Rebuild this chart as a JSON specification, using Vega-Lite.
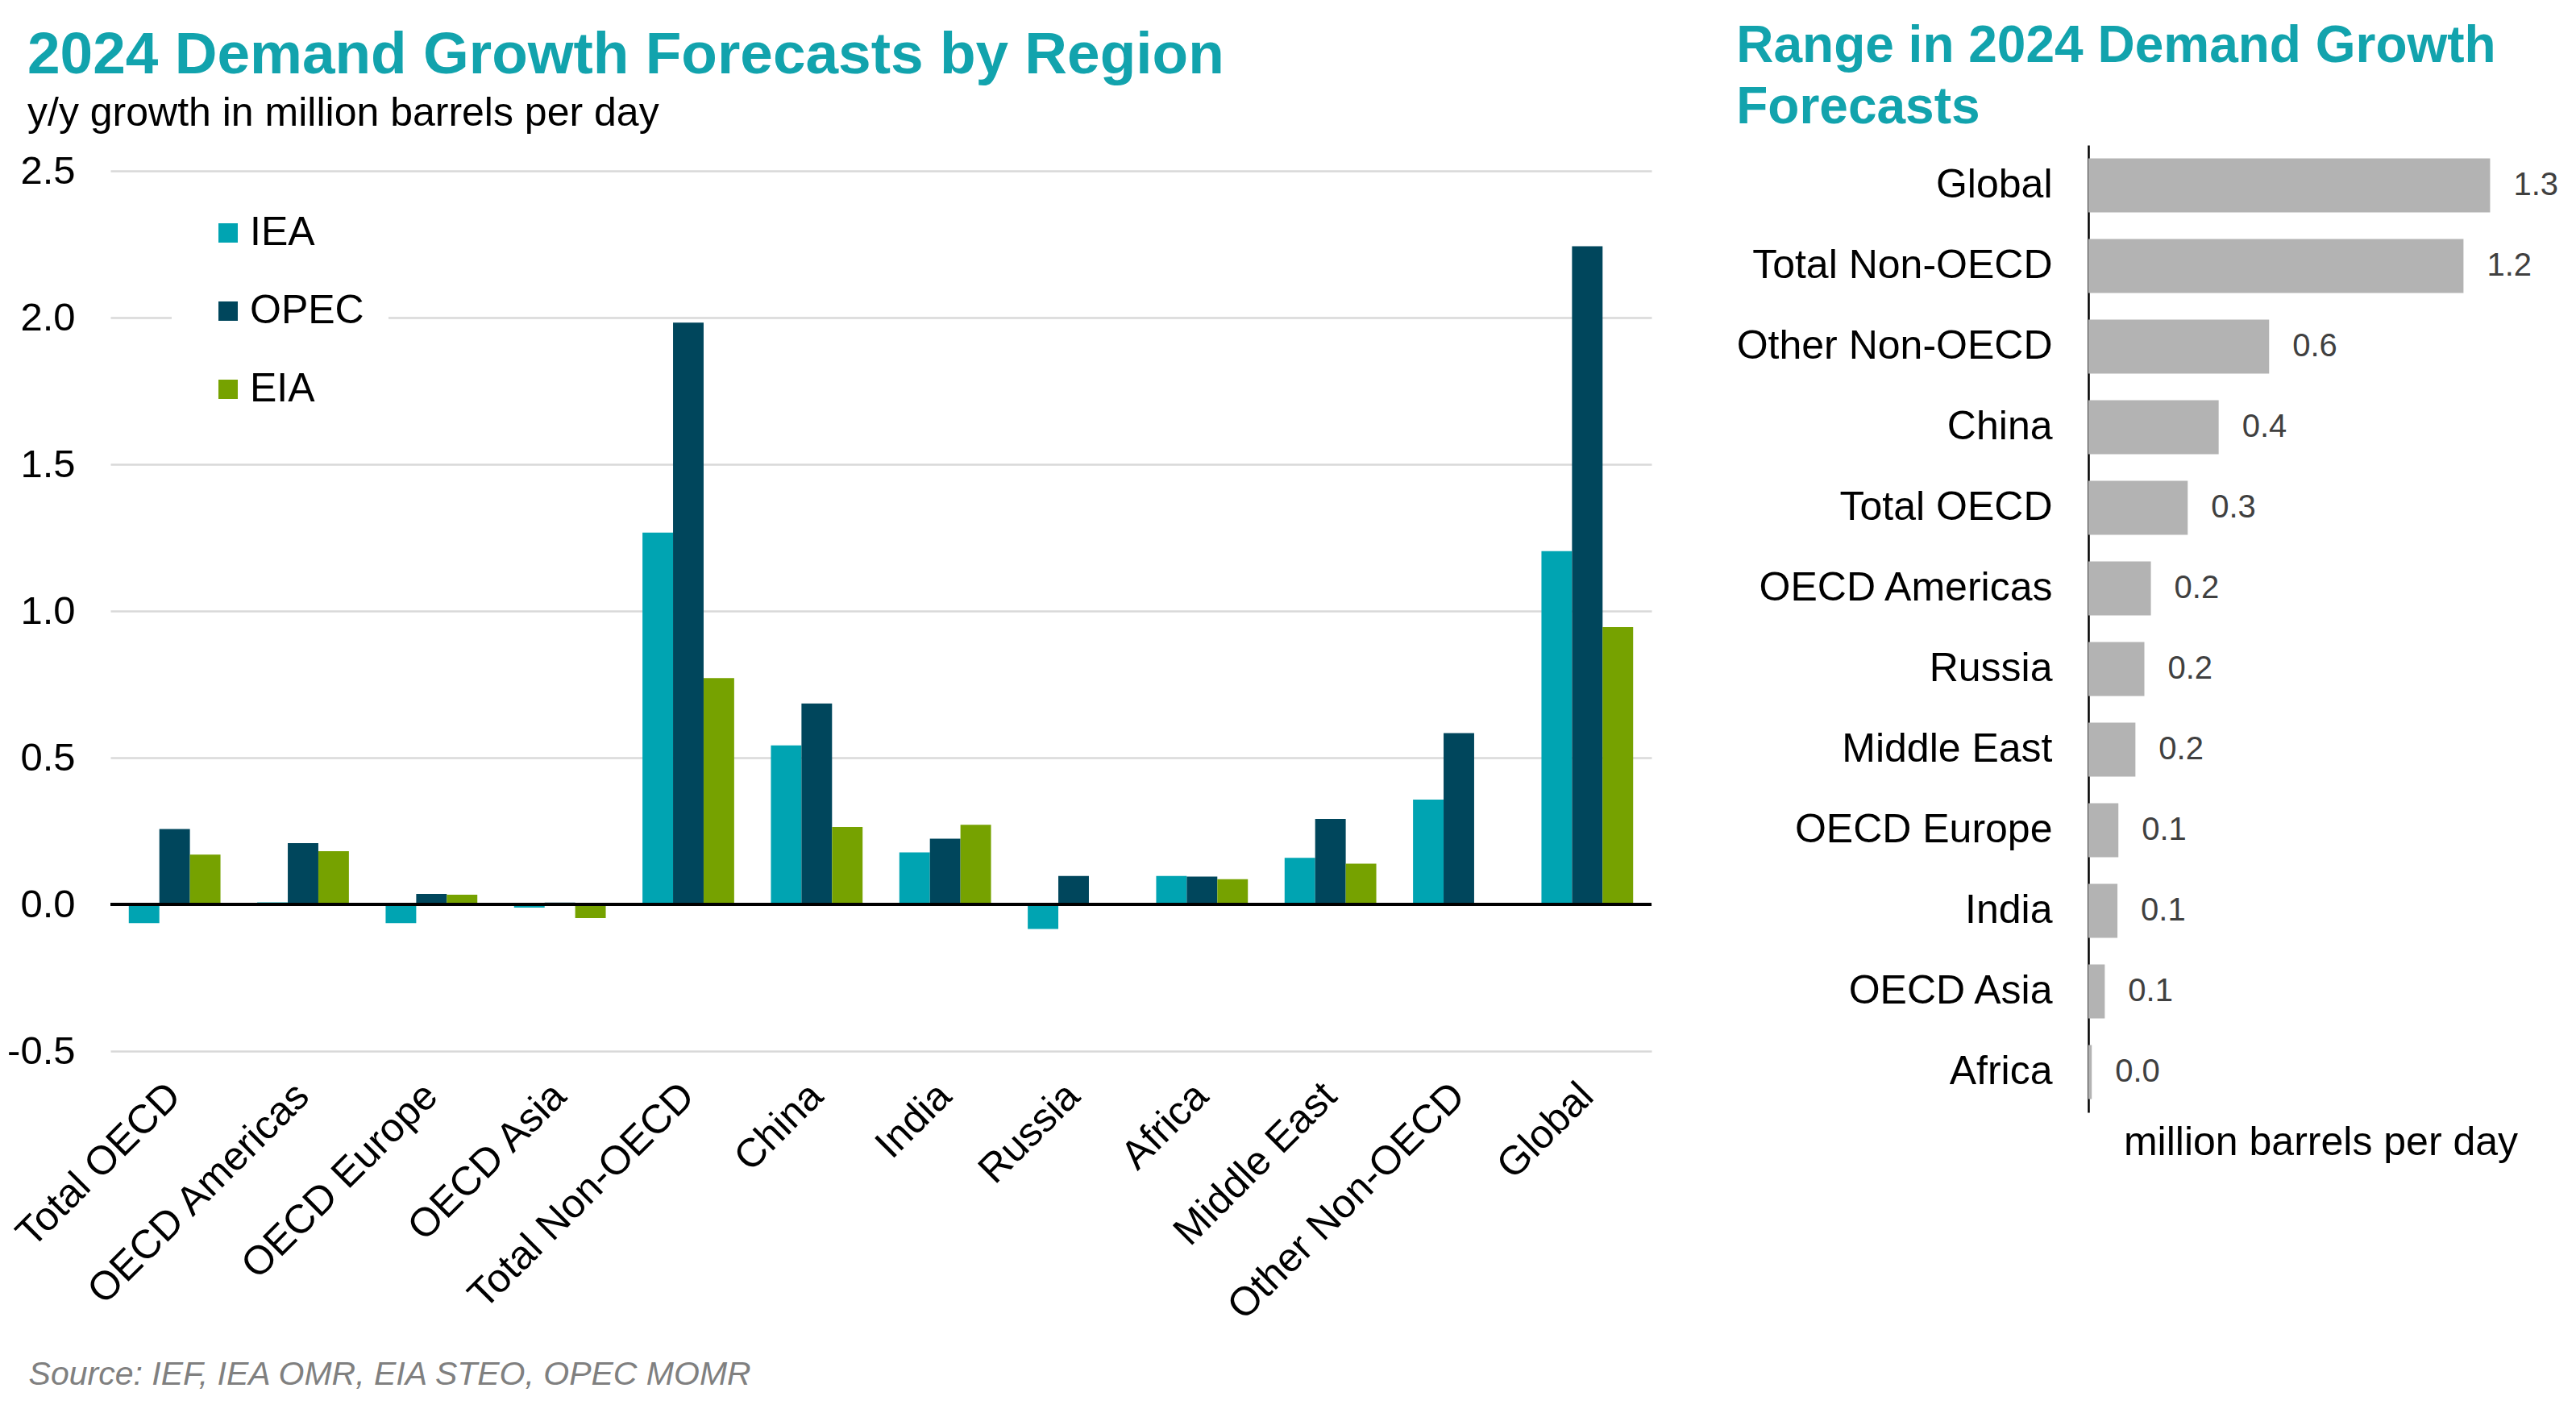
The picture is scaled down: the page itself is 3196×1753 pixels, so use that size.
{
  "$schema": "https://vega.github.io/schema/vega-lite/v6.json",
  "background": "white",
  "padding": {"left": 8, "top": 26, "right": 0, "bottom": 0},
  "spacing": 103,
  "title": {
    "text": "Source: IEF, IEA OMR, EIA STEO, OPEC MOMR",
    "orient": "bottom",
    "anchor": "start",
    "frame": "bounds",
    "dx": 27,
    "offset": 40,
    "fontSize": 41,
    "fontStyle": "italic",
    "fontWeight": "normal",
    "color": "#808080"
  },
  "config": {
    "font": "Liberation Sans",
    "view": {"stroke": null},
    "axis": {"labelColor": "black", "titleColor": "black", "labelLimit": 0}
  },
  "datasets": {
    "forecasts": [
      {"region": "Total OECD", "source": "IEA", "growth": -0.064},
      {"region": "Total OECD", "source": "OPEC", "growth": 0.257},
      {"region": "Total OECD", "source": "EIA", "growth": 0.17},
      {"region": "OECD Americas", "source": "IEA", "growth": 0.007},
      {"region": "OECD Americas", "source": "OPEC", "growth": 0.209},
      {"region": "OECD Americas", "source": "EIA", "growth": 0.181},
      {"region": "OECD Europe", "source": "IEA", "growth": -0.064},
      {"region": "OECD Europe", "source": "OPEC", "growth": 0.036},
      {"region": "OECD Europe", "source": "EIA", "growth": 0.033},
      {"region": "OECD Asia", "source": "IEA", "growth": -0.011},
      {"region": "OECD Asia", "source": "OPEC", "growth": 0.006},
      {"region": "OECD Asia", "source": "EIA", "growth": -0.047},
      {"region": "Total Non-OECD", "source": "IEA", "growth": 1.267},
      {"region": "Total Non-OECD", "source": "OPEC", "growth": 1.983},
      {"region": "Total Non-OECD", "source": "EIA", "growth": 0.771},
      {"region": "China", "source": "IEA", "growth": 0.542},
      {"region": "China", "source": "OPEC", "growth": 0.685},
      {"region": "China", "source": "EIA", "growth": 0.264},
      {"region": "India", "source": "IEA", "growth": 0.177},
      {"region": "India", "source": "OPEC", "growth": 0.224},
      {"region": "India", "source": "EIA", "growth": 0.271},
      {"region": "Russia", "source": "IEA", "growth": -0.084},
      {"region": "Russia", "source": "OPEC", "growth": 0.097},
      {"region": "Africa", "source": "IEA", "growth": 0.097},
      {"region": "Africa", "source": "OPEC", "growth": 0.095},
      {"region": "Africa", "source": "EIA", "growth": 0.086},
      {"region": "Middle East", "source": "IEA", "growth": 0.159},
      {"region": "Middle East", "source": "OPEC", "growth": 0.291},
      {"region": "Middle East", "source": "EIA", "growth": 0.139},
      {"region": "Other Non-OECD", "source": "IEA", "growth": 0.357},
      {"region": "Other Non-OECD", "source": "OPEC", "growth": 0.584},
      {"region": "Global", "source": "IEA", "growth": 1.204},
      {"region": "Global", "source": "OPEC", "growth": 2.243},
      {"region": "Global", "source": "EIA", "growth": 0.945}
    ],
    "ranges": [
      {"region": "Global", "range": 1.298},
      {"region": "Total Non-OECD", "range": 1.212},
      {"region": "Other Non-OECD", "range": 0.584},
      {"region": "China", "range": 0.421},
      {"region": "Total OECD", "range": 0.321},
      {"region": "OECD Americas", "range": 0.202},
      {"region": "Russia", "range": 0.181},
      {"region": "Middle East", "range": 0.152},
      {"region": "OECD Europe", "range": 0.097},
      {"region": "India", "range": 0.094},
      {"region": "OECD Asia", "range": 0.053},
      {"region": "Africa", "range": 0.011}
    ]
  },
  "hconcat": [
    {
      "width": 1912,
      "height": 1124,
      "title": {
        "text": "2024 Demand Growth Forecasts by Region",
        "subtitle": "y/y growth in million barrels per day",
        "anchor": "start",
        "frame": "group",
        "dx": -103,
        "offset": 14,
        "fontSize": 73,
        "fontWeight": "bold",
        "color": "#12A3AD",
        "subtitleFontSize": 50,
        "subtitleColor": "black",
        "subtitlePadding": 10
      },
      "data": {"name": "forecasts"},
      "layer": [
        {
          "mark": {"type": "bar"},
          "encoding": {
            "x": {
              "field": "region",
              "type": "nominal",
              "sort": ["Total OECD", "OECD Americas", "OECD Europe", "OECD Asia", "Total Non-OECD", "China", "India", "Russia", "Africa", "Middle East", "Other Non-OECD", "Global"],
              "scale": {"paddingInner": 0.286, "paddingOuter": 0.143},
              "axis": {
                "title": null,
                "labelAngle": -45,
                "labelFontSize": 50,
                "labelPadding": 30,
                "labelOffset": -18,
                "domain": false,
                "ticks": false
              }
            },
            "xOffset": {
              "field": "source",
              "type": "nominal",
              "sort": ["IEA", "OPEC", "EIA"],
              "scale": {"paddingInner": 0, "paddingOuter": 0}
            },
            "y": {
              "field": "growth",
              "type": "quantitative",
              "scale": {"domain": [-0.5, 2.588], "nice": false, "zero": false},
              "axis": {
                "title": null,
                "values": [-0.5, 0, 0.5, 1, 1.5, 2, 2.5],
                "format": ".1f",
                "labelExpr": "replace(datum.label, '\u2212', '-')",
                "labelFontSize": 49,
                "labelPadding": 44,
                "domain": false,
                "ticks": false,
                "gridColor": "#D9D9D9",
                "gridWidth": 2.5
              }
            },
            "color": {
              "field": "source",
              "type": "nominal",
              "scale": {"domain": ["IEA", "OPEC", "EIA"], "range": ["#00A4B2", "#00465C", "#76A200"]},
              "legend": {
                "title": null,
                "orient": "none",
                "legendX": 76,
                "legendY": 54,
                "symbolType": "square",
                "symbolSize": 576,
                "symbolStrokeWidth": 0,
                "symbolOffset": 15,
                "labelFontSize": 50,
                "labelColor": "black",
                "labelOffset": 2,
                "rowPadding": 47,
                "padding": 30,
                "fillColor": "white"
              }
            }
          }
        },
        {
          "mark": {"type": "rule", "color": "black", "strokeWidth": 3},
          "encoding": {"y": {"datum": 0}}
        }
      ]
    },
    {
      "width": 576,
      "height": 1200,
      "title": {
        "text": ["Range in 2024 Demand Growth", "Forecasts"],
        "anchor": "start",
        "frame": "bounds",
        "offset": 14,
        "fontSize": 64,
        "lineHeight": 76,
        "fontWeight": "bold",
        "color": "#12A3AD"
      },
      "data": {"name": "ranges"},
      "encoding": {
        "y": {
          "field": "region",
          "type": "nominal",
          "sort": {"field": "range", "order": "descending"},
          "scale": {"paddingInner": 0.33, "paddingOuter": 0.165},
          "axis": {
            "title": null,
            "domainColor": "black",
            "domainWidth": 2.5,
            "ticks": false,
            "labelFontSize": 50,
            "labelPadding": 45
          }
        },
        "x": {
          "field": "range",
          "type": "quantitative",
          "scale": {"domain": [0, 1.5], "nice": false},
          "axis": {
            "title": "million barrels per day",
            "titleFontSize": 50,
            "titleFontWeight": "normal",
            "titlePadding": 12,
            "labels": false,
            "ticks": false,
            "domain": false,
            "grid": false
          }
        }
      },
      "layer": [
        {"mark": {"type": "bar", "color": "#B3B3B3"}},
        {
          "mark": {"type": "text", "align": "left", "dx": 29, "fontSize": 40, "color": "#404040"},
          "encoding": {"text": {"field": "range", "type": "quantitative", "format": ".1f"}}
        }
      ]
    }
  ]
}
